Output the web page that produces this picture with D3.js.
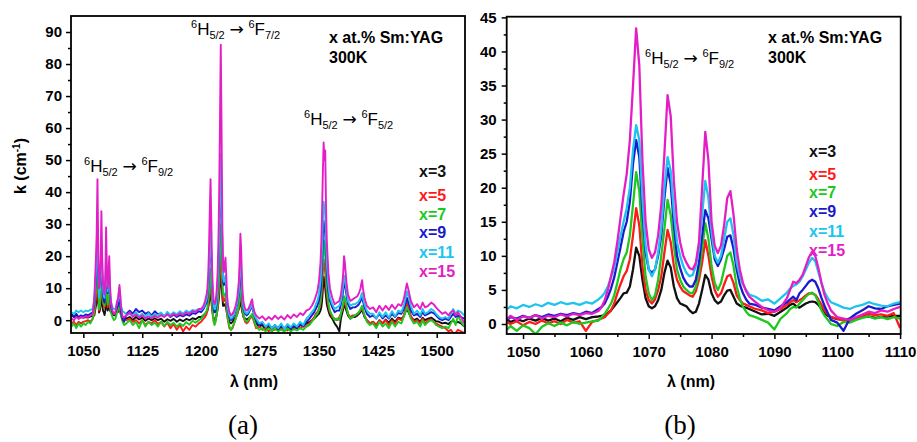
<!DOCTYPE html>
<html><head><meta charset="utf-8">
<script src="https://cdn.jsdelivr.net/npm/d3@7/dist/d3.min.js"></script>
<style>
body{margin:0;background:#fff}
svg{display:block}
text{font-family:"Liberation Sans",Arial,Helvetica,sans-serif;white-space:pre}
</style>
</head><body>
<svg id="chart" width="917" height="442"></svg>
<script>
// ---------------- DATA ----------------
const seriesNames  = ["x=3", "x=5", "x=7", "x=9", "x=11", "x=15"];
const seriesColors = ["#111111", "#ff1a1a", "#1ec81e", "#1a1acc", "#1cc4ee", "#e41ec6"];

// Panel (a): wavelength grid (nm)
const leftLambda = [
  1035,1038,1041,1044,1047,1050,1053,1056,1059,1062,
  1064,1066,1067,1068,1069,1070,1071,1072,1073,1074,1075,1076,1077,1078,1079,1080,1081,1082,1083,1084,1085,1087,1089,1091,1093,1094,1095,1096,1097,1098,1100,1102,
  1105,1109,1113,1117,1121,1125,1129,1133,1137,1141,1145,1149,1153,1157,1161,1165,1169,1173,1177,1181,1185,1189,1193,1197,1200,1203,1205,1207,
  1208,1209,1210,1211,1212,1213,1214,1215,1216,1217,1218,1219,1220,1221,1222,1223,1224,1225,1226,1227,1228,1229,1230,1231,1232,1233,1234,
  1236,1238,1240,1242,1244,1246,1248,1249,1250,1251,1252,1253,1254,1256,1258,1260,1262,1264,1265,1266,1268,
  1270,1274,1278,1282,1286,1290,1294,1298,1302,1306,1310,1314,1318,1322,1326,1330,1334,1338,1341,1344,1346,
  1348,1350,1352,1353,1354,1355,1356,1357,1358,1359,1360,1362,1364,1367,1370,1373,1376,1378,1380,1381,1382,1383,1385,1387,1390,1393,1396,1399,1401,1403,1404,1405,1406,1408,1411,1415,
  1419,1423,1427,1431,1435,1439,1443,1447,1451,1455,1458,1460,1462,1464,1467,1471,1475,1479,1482,1485,1489,1493,1496,1499,1503,1507,1511,1515,1518,1521,1524,1527,1531,1535
];
// Panel (a): absorption coefficient k (cm^-1)
const leftX3 = [
  2,1,1.5,0.5,1,0.8,1,0.8,1.2,1.2,
  1.5,4.5,6,11,6,2.4,3,5,9.3,5,3,2.5,1.6,3,7,4.5,3,4,5,3,2.5,2,1.5,1.5,3,2.5,3,3.3,2.8,1.5,0.7,0.8,
  0.5,1,0,1,0.2,0.8,-0.2,0.5,0,0.6,0,0.5,-0.5,0.3,-0.2,0.4,-0.5,0.2,-0.3,0.4,0,0.6,0.3,1,1,1.5,2,2.5,
  3,4,5.5,7.5,9,6,3.5,1.5,0.5,0,0.2,1,2,3.5,5.5,8,11,14,12,7,4.5,4.5,5,5,3.5,2,1,
  -0.5,-1,-0.5,0.3,1,2,3.5,4.5,6,5,3,2,1,0.5,0.2,0.5,1,1.5,1.5,1,0,
  -1,-2,-1.5,-3,-2,-3.5,-2.5,-3.2,-2.2,-3,-2,-3,-2,-2.6,-1.5,-2,-1,-0.5,0,0.5,1,
  1.5,2,3,4,6,9.5,13.5,12,10,7.5,5,3,1.5,0.5,-1,-2,-3.5,0.5,2.5,3.5,5,4.5,3,1.5,0.5,1,1,1.5,2,2.5,3,3,2.5,1,0,-1,
  -0.5,-1.5,0,-1,0.2,-0.8,0.5,-0.5,0.8,0.5,1.2,2.5,3.5,2.5,1,0,0.5,-0.5,0.8,0,0.5,0.8,0.3,-0.3,-0.5,-1,-0.8,-1.2,-0.5,0,-1,-0.5,-1,-2
];
const leftX5 = [
  -1,-0.5,-1.5,-0.5,-1,-0.5,-0.3,0,-0.5,0.5,
  2,7,10,17,8,3,4,7,14,8,5.5,4.5,4,6.5,12,7,4,5.5,7,4,3,2.5,1.8,2,3.5,3.5,4,4.5,3.5,1.8,0.8,0.5,
  0,0.5,-0.5,0,-1,0,-1.5,-0.5,-1,0,-1.2,-0.5,-2,-0.8,-2.5,-1.2,-3,-1.5,-3.5,-2,-3,-1.5,-2,-1,-0.5,0.5,1,2,
  3,4.5,7,10,12,8,4.5,1.5,-0.5,-1,-0.5,0.5,2,4,7,10,15,21,17,10,6,6,6.5,7,4.5,2,0,
  -2.5,-3,-2.5,-1,0.5,2,4,6,9,7.5,4.5,2.5,1,-0.5,-1,-0.5,0.5,1,1.5,0.5,-1,
  -2.5,-2,-3,-2.5,-3.5,-2.5,-3,-2,-3,-2.5,-3.2,-2.2,-2.8,-2,-2.5,-1.8,-2,-1,0,1,2,
  2.5,3.5,5,7,10,15,19,17,15,11,8,4.5,2.5,1,0.5,0,1,2,3.5,4.5,6,5.5,4,2,1,1.5,1.5,2,2.5,3,3.5,4,3,1.5,0,-1,
  -0.5,-1.5,0,-1,0,-1.5,0,-1.2,0.5,0,1.5,3.5,5.5,4,1.5,-0.5,0,-1,0.5,-1,0,0.2,-0.5,-1,-1.5,-2,-2.5,-3.5,-3,-4,-4,-3,-3.5,-4
];
const leftX7 = [
  -2,-1,-2.5,-1,-2,-1,-1.5,-0.5,-1,0.5,
  3,9.5,13,22,12,3.5,4.5,10,18,11,6.5,5,4.5,7,15,8,5,7.5,10.5,5.5,2.5,1,0,0.5,2.5,3,4,4.5,3,1.2,-0.5,-1.5,
  -1,0,-1.5,-0.5,-2.5,0,-2,-0.5,-1.5,-0.8,-2,-0.5,-1.8,-0.5,-1.5,-0.8,-2,-1,-1.8,-0.6,-1.4,-0.2,-0.8,0,0.5,1.5,2,3,
  4,6,9,13,16,11,6,2,0,-1.5,-1,0.5,2,5,9,14,22,30,24,13,8,7.5,8,8.5,6,3,0.5,
  -2,-3,-2,-1,0.5,2,4.5,7.5,12,10,5.5,3,1.5,0,-0.5,0,1,1.5,2,1,-0.5,
  -2,-3,-2.5,-3.5,-2.5,-3.5,-2.5,-3.5,-2.8,-3.6,-2.5,-3.5,-2.8,-3.2,-2.5,-3,-2,-1.5,-0.5,0.5,1.5,
  2,3.5,6,8.5,13,19,25,22,20,15,10,5.5,3,1.5,0,0.5,0,2,4,5.5,7.5,7,4.5,2,0.5,1,1.5,2,2.5,3.5,4,4.5,3.5,1.5,-0.5,-1.5,
  -1,-2.5,-0.5,-2,-1,-2.5,-0.5,-2,-0.5,-1,1,2.5,4,3,0.5,-1,-0.5,-2,0,-1.5,-0.5,0,-0.5,-1.5,-2,-2.5,-2,-2.5,-1,0.5,-1.5,1.5,-0.5,-2
];
const leftX9 = [
  1.5,1,2,1,1.5,1.2,1.8,1.5,2,2.5,
  5,13.5,18,27,15,7.5,8,13,23,14,8,6,5.5,9,17,12,8.5,11,13,8,4.5,2.5,2,2.5,4,4.5,5.5,6.5,5,2.5,0.2,-0.5,
  2,3,2,3.5,2.5,3,2,2.5,1.5,2.8,1.8,2.2,1.2,2,1,1.8,1,1.6,1.2,1.8,1.4,2.2,2,2.8,2.5,3.5,4.5,5.5,
  7,10,15,22,26,19,11,6,3.5,2.5,2.5,4,6,10,15,24,37,48,38,21,12,11,12,13,9.5,5.5,3,
  1,0,0.5,1.5,3,5,8,12,17,14,8.5,5,3.5,2,1.5,2,3,4,4.5,3,1.5,
  0,-1.5,-1,-2,-1.5,-2.5,-1.5,-2.8,-1.8,-2.5,-1.5,-2.6,-1.8,-2.4,-1.2,-1.8,-0.5,0.5,1.5,2.5,3.5,
  4.5,6,9,12,18,26,31,29,27,21,15,9,6,4,2.5,3,3,5,7.5,9.5,12,11.5,8,5,3.5,4,4,4.5,5,6,7,7.5,6,4,2,1,
  1.5,0.5,2,0.5,1.5,0.5,2,1,2.2,2,3.5,5,7,5.5,3,1.5,2,1,2.5,1.5,2,2.5,2.2,1.5,0.5,0,0.5,0,1,2,1,1.5,1,0.5
];
const leftX11 = [
  2.5,2,3,2.5,3,2.5,3,2.8,3.2,3.5,
  6.5,15,20,29,17,7,8,14,24.5,16,10,7.5,7,11,21,13,9,12,15.5,9,6,4,3.5,3.5,5.5,6,8,10,7.5,4.5,2.8,2.5,
  1.5,2,1.5,2.5,1.2,2,1,2.2,1,2,1.5,2.4,1.2,2.6,1.6,2.5,1.8,2.8,2,3,2.4,3.2,3,3.5,3.2,4,5,6.5,
  8,11,16,24,28,20,12,7,4.5,3.5,3.5,5,7,11,17,26,40,52,40,22,13,12,13,14,10,6,3.5,
  1.5,0.5,1,2,3.5,5.5,9,14,20,17,10,6,4,2.5,2,2.5,3.5,4.5,5,3.5,1.5,
  0.5,-1,-0.5,-2,-1,-2.5,-1.5,-2.5,-1,-2.8,-1.2,-2.2,-1,-2,-0.5,-1.5,0.5,1.5,2.5,3.5,5,
  6,8,12,16,23,31,37,35,33,25,18,11,7,5,3.5,4,4.5,6,9,11,14,13.5,9.5,6,4.5,5,5,5.5,6,7,8,8.5,7,5,3,2,
  2,0.5,2.5,1,2.5,0.8,2.8,1.2,3,2.5,4.5,6.5,9,7.5,4.5,2,3,1.5,3.5,2,2.5,3.5,3,2,1,0.5,1,0.5,2,3.5,2,3,2.5,1.5
];
const leftX15 = [
  0.5,0,1,0.5,1,0.8,1.2,1,1.5,2,
  7,19,27,44,22,10,11,18,34,20,12,9,8,13,29,15,10,14,20,11,6,3,2,2.5,6,6.5,8.5,11,8,4,1,1,
  1.5,2.5,1,1.8,0.8,1.5,0.5,1.2,0.6,1.4,0.8,1.6,1,1.8,1.2,2,1.4,2.2,1.6,2.4,2,2.8,2.5,3.5,3.5,4.5,6,8,
  10,14,22,34,44,30,16,9,6,5,5.5,7,10,15,24,40,62,86,60,30,16,15,17.5,19.5,14,8,5,
  2.5,1.5,2,3,4.5,7,12,18,27,22,13,8,5.5,3.5,3,3.5,4.5,6,6.5,4.5,2.5,
  1.5,0.5,1.2,0,1,0.2,1.4,0.4,1.2,0.2,1.6,0.6,1.8,1,2.2,1.6,3,3.5,4.5,6,7.5,
  9,12,18,24,34,46,55.5,50,53,36,25,15,10,7,5,5.5,6,8,12,15,20,18,12,8,6,6.5,7,7.5,8.5,10,11.5,12.5,10,7,4.5,3.5,
  4,2.5,4.5,3,4.5,3.2,4.8,3.5,5,4.5,6.5,9,11.5,9.5,6,4,5,3.5,5.5,4,4.5,5.5,5,4,3,2,2.5,1.5,2.5,3,1.5,2.5,1,-1
];

// Panel (b): wavelength grid (nm)
const rightLambda = [
  1047.5,1048,1049,1050,1051,1052,1053,1054,1055,1056,1057,1058,1059,1060,1061,1062,
  1062.5,1063,1063.5,1064,1064.5,1065,1065.5,1066,1066.5,1067,1067.5,1068,1068.5,1069,1069.5,1070,1070.5,1071,1071.5,1072,1072.5,1073,1073.5,1074,
  1074.5,1075,1075.5,1076,1076.5,1077,1077.5,1078,1078.5,1079,1079.5,1080,1080.5,1081,1081.5,1082,1082.5,1083,1083.5,1084,1084.5,1085,1085.5,1086,
  1087,1088,1089,1090,1091,1092,1092.5,1093,1093.5,1094,1094.5,1095,1095.5,1096,1096.5,1097,1097.5,1098,1098.5,1099,1100,1101,1102,1103,1104,1105,1106,1107,1108,1109,1110
];
const rightX3 = [
  0.6,0.3,0.7,0.4,0.8,0.5,0.9,0.5,0.8,0.4,0.9,0.6,1.0,0.7,1.0,1.1,
  1.2,1.3,1.6,2.0,2.6,3.2,3.8,4.5,4.6,5.5,8.0,11.2,10.0,6.5,3.8,2.6,2.3,2.6,3.5,5.0,7.5,9.3,8.3,5.5,
  3.8,3.0,2.8,2.6,2.0,1.6,1.8,3.0,5.0,7.2,6.5,4.5,3.5,3.0,3.3,4.2,4.9,5.0,4.0,3.0,2.7,2.5,2.4,2.2,
  1.8,1.4,1.5,1.2,1.8,2.4,2.8,3.0,2.6,2.4,2.7,3.0,3.2,3.3,3.2,2.8,2.2,1.6,1.2,1.0,0.7,0.6,0.8,0.7,1.0,1.1,0.9,1.0,1.1,1.2,1.2
];
const rightX5 = [
  0.3,0.0,0.4,-0.2,0.3,0.0,0.5,0.1,0.4,0.0,0.6,0.2,0.4,-1.0,0.3,0.6,
  0.8,1.0,1.5,2.0,3.0,4.5,5.8,7.0,7.8,9.5,13.0,17.0,14.5,8.5,5.0,3.5,3.0,3.6,5.0,7.0,10.5,13.8,12.0,8.5,
  6.5,5.5,4.8,4.5,4.2,4.0,4.8,6.5,9.0,12.3,10.0,7.0,5.0,4.0,4.5,5.8,7.0,7.2,6.0,4.2,3.5,3.0,2.8,2.6,
  2.2,2.0,1.6,1.8,2.2,2.8,3.2,3.5,3.2,3.5,3.8,4.2,4.5,4.5,4.3,3.6,2.8,2.0,1.4,1.0,0.8,0.5,0.4,0.8,1.2,1.5,1.3,1.4,1.2,1.6,-0.6
];
const rightX7 = [
  -0.8,-0.3,-1.0,-0.2,-0.6,-1.5,-0.4,0.1,-0.3,0.2,-0.2,0.3,0.0,0.2,0.4,0.5,
  1.0,1.5,2.2,3.0,4.2,6.0,8.0,9.5,10.5,13.0,17.5,22.3,19.5,12.5,7.0,4.5,3.5,4.2,6.5,10.0,14.0,18.2,16.0,11.5,
  8.0,6.5,5.5,5.0,4.6,4.5,5.5,7.5,11.0,14.8,12.5,8.5,6.0,5.0,6.0,8.0,10.0,10.5,8.5,5.5,3.8,2.5,1.8,1.3,
  1.0,0.6,0.2,-0.8,0.8,1.6,2.2,2.5,2.4,3.0,3.5,4.0,4.4,4.6,4.2,3.2,2.0,1.2,0.6,0.0,-0.3,0.3,0.2,0.6,0.9,1.1,0.8,1.0,0.7,1.0,0.8
];
const rightX9 = [
  0.6,1.0,0.8,1.2,0.9,1.3,1.0,1.4,1.2,1.5,1.3,1.6,1.4,1.8,1.6,2.2,
  2.5,3.0,4.0,5.2,6.8,9.0,11.2,13.5,15.0,18.0,23.5,27.0,24.5,16.5,10.5,8.0,7.5,8.0,10.0,13.0,18.5,22.9,20.5,14.5,
  10.0,8.2,6.8,6.0,5.5,5.5,6.5,9.0,13.0,16.7,15.5,12.5,9.5,8.5,9.5,11.0,12.8,13.0,11.0,8.0,5.8,4.5,3.6,3.0,
  2.8,2.4,2.2,2.0,2.6,3.2,3.6,4.0,3.5,4.5,5.0,5.6,6.2,6.5,6.2,5.2,3.8,2.6,1.6,0.6,0.2,-1.0,0.8,1.5,2.0,2.6,2.3,2.2,2.6,2.8,3.0
];
const rightX11 = [
  2.2,2.6,2.3,2.8,2.5,2.9,2.6,3.1,2.8,3.2,2.9,3.1,2.8,3.2,3.0,3.6,
  4.0,4.6,5.5,6.8,8.2,10.5,12.8,15.0,17.0,20.0,25.5,29.2,27.0,18.5,11.5,8.0,7.0,8.0,10.5,14.0,20.0,24.5,22.5,16.5,
  12.0,10.0,8.5,7.5,7.0,7.2,8.5,11.0,16.0,21.0,18.5,13.5,10.0,9.0,10.0,12.5,15.0,15.5,13.0,9.0,7.0,5.8,5.0,4.3,
  4.0,3.4,3.6,3.0,3.8,4.6,5.2,5.6,5.8,6.2,7.0,8.0,9.0,9.7,9.2,7.6,6.0,4.6,3.8,3.2,2.8,2.4,2.2,2.6,2.8,3.2,2.9,2.7,2.6,3.0,3.2
];
const rightX15 = [
  0.8,1.2,0.6,1.1,0.9,1.3,0.8,1.2,1.0,1.4,1.1,1.5,1.3,1.6,1.5,1.9,
  2.5,3.5,5.0,7.0,9.0,12.0,15.5,19.0,22.0,27.0,35.0,43.4,38.0,24.0,15.0,11.0,9.7,10.5,13.0,17.5,25.0,33.6,30.5,21.0,
  15.0,12.0,10.0,9.0,8.2,8.0,9.0,12.0,20.0,28.2,24.0,15.0,11.5,10.4,11.5,14.5,18.5,19.5,16.0,11.0,8.0,6.0,4.8,4.0,
  3.2,2.5,2.0,1.8,2.4,3.8,5.0,6.2,6.0,6.5,7.2,8.5,9.8,10.6,10.0,8.2,6.0,4.2,3.0,2.0,1.0,0.8,0.6,1.0,1.4,1.8,1.6,2.0,1.8,2.2,2.5
];

// Tick values
const leftXTicks  = [1050, 1125, 1200, 1275, 1350, 1425, 1500];
const leftXMinor  = [1087.5, 1162.5, 1237.5, 1312.5, 1387.5, 1462.5];
const leftYTicks  = [0, 10, 20, 30, 40, 50, 60, 70, 80, 90];
const leftYMinor  = [5, 15, 25, 35, 45, 55, 65, 75, 85];
const rightXTicks = [1050, 1060, 1070, 1080, 1090, 1100, 1110];
const rightXMinor = [1055, 1065, 1075, 1085, 1095, 1105];
const rightYTicks = [0, 5, 10, 15, 20, 25, 30, 35, 40, 45];
const rightYMinor = [2.5, 7.5, 12.5, 17.5, 22.5, 27.5, 32.5, 37.5, 42.5];

// ---------------- DRAW ----------------
const svg = d3.select("#chart");

function panel(cfg) {
  const x = d3.scaleLinear().domain(cfg.xDomain).range([cfg.left, cfg.right]);
  const y = d3.scaleLinear().domain(cfg.yDomain).range([cfg.bottom, cfg.top]);
  const g = svg.append("g");

  g.append("clipPath").attr("id", cfg.id)
    .append("rect").attr("x", cfg.left).attr("y", cfg.top)
    .attr("width", cfg.right - cfg.left).attr("height", cfg.bottom - cfg.top);

  const line = d3.line().x(d => x(d[0])).y(d => y(d[1]));
  const lg = g.append("g").attr("clip-path", `url(#${cfg.id})`);
  cfg.series.forEach((s, i) => {
    lg.append("path").datum(d3.zip(cfg.lambda, s))
      .attr("d", line).attr("fill", "none")
      .attr("stroke", seriesColors[i]).attr("stroke-width", cfg.lw)
      .attr("stroke-linejoin", "round");
  });

  // axes
  const ax = g.append("g").attr("transform", `translate(0,${cfg.bottom})`)
    .call(d3.axisBottom(x).tickValues(cfg.xTicks).tickSize(5).tickSizeOuter(0).tickPadding(7).tickFormat(d3.format("d")));
  const axm = g.append("g").attr("transform", `translate(0,${cfg.bottom})`)
    .call(d3.axisBottom(x).tickValues(cfg.xMinor).tickSize(3).tickSizeOuter(0).tickFormat(""));
  const ay = g.append("g").attr("transform", `translate(${cfg.left},0)`)
    .call(d3.axisLeft(y).tickValues(cfg.yTicks).tickSize(5).tickSizeOuter(0).tickPadding(cfg.yPad).tickFormat(d3.format("d")));
  const aym = g.append("g").attr("transform", `translate(${cfg.left},0)`)
    .call(d3.axisLeft(y).tickValues(cfg.yMinor).tickSize(3).tickSizeOuter(0).tickFormat(""));
  [ax, axm, ay, aym].forEach(a => {
    a.select(".domain").remove();
    a.selectAll("line").attr("stroke", "#000").attr("stroke-width", 1.5);
    a.selectAll("text").attr("font-size", 15).attr("font-weight", "bold")
      .attr("fill", "#000").attr("font-family", '"Liberation Sans", Arial, sans-serif');
  });

  g.append("rect").attr("x", cfg.left).attr("y", cfg.top)
    .attr("width", cfg.right - cfg.left).attr("height", cfg.bottom - cfg.top)
    .attr("fill", "none").attr("stroke", "#000").attr("stroke-width", 1.8);

  // x title
  g.append("text").attr("x", cfg.xTitleX).attr("y", 387).attr("text-anchor", "middle")
    .attr("font-size", 16).attr("font-weight", "bold").text("\u03bb (nm)");
  // panel letter
  g.append("text").attr("x", cfg.xTitleX - 11).attr("y", 434).attr("text-anchor", "middle")
    .attr("font-size", 27)
    .style("font-family", '"Liberation Serif", "Times New Roman", serif')
    .text(cfg.letter);

  // info
  g.append("text").attr("x", cfg.infoX).attr("y", 42.7).attr("font-size", 16)
    .attr("font-weight", "bold").text("x at.% Sm:YAG");
  g.append("text").attr("x", cfg.infoX).attr("y", 63.3).attr("font-size", 16)
    .attr("font-weight", "bold").text("300K");

  // legend
  seriesNames.forEach((n, i) => {
    g.append("text").attr("x", cfg.legX).attr("y", cfg.legY[i]).attr("font-size", 16)
      .attr("font-weight", "bold").attr("fill", seriesColors[i]).text(n);
  });

  cfg.transitions.forEach(t => transition(g, t[0], t[1], t[2]));
  return g;
}

function transition(g, x, y, sub2) {
  const t = g.append("text").attr("x", x).attr("y", y).attr("font-size", 17).attr("fill", "#000");
  t.append("tspan").attr("font-size", 11).attr("dy", -7).text("6");
  t.append("tspan").attr("dy", 7).text("H");
  t.append("tspan").attr("font-size", 11).attr("dy", 4).text("5/2");
  t.append("tspan").attr("dy", -4).text(" ");
  t.append("tspan").style("font-family", '"DejaVu Sans", sans-serif').attr("font-size", 17).text("\u2192");
  t.append("tspan").text(" ");
  t.append("tspan").attr("font-size", 11).attr("dy", -7).text("6");
  t.append("tspan").attr("dy", 7).text("F");
  t.append("tspan").attr("font-size", 11).attr("dy", 4).text(sub2);
}

panel({
  id: "clipA", left: 71, right: 465, top: 16, bottom: 333,
  xDomain: [1034.3, 1536], yDomain: [-4, 95],
  lambda: leftLambda,
  series: [leftX3, leftX5, leftX7, leftX9, leftX11, leftX15],
  lw: 1.9,
  xTicks: leftXTicks, xMinor: leftXMinor, yTicks: leftYTicks, yMinor: leftYMinor, yPad: 4,
  xTitleX: 254, letter: "(a)", infoX: 329, legX: 419,
  legY: [177.3, 200.7, 220, 238, 258, 277],
  transitions: [[84, 171.7, "9/2"], [191, 35, "7/2"], [304, 125, "5/2"]]
});

panel({
  id: "clipB", left: 506.7, right: 900.7, top: 16.7, bottom: 334,
  xDomain: [1047.4, 1110.1], yDomain: [-1.47, 45.1],
  lambda: rightLambda,
  series: [rightX3, rightX5, rightX7, rightX9, rightX11, rightX15],
  lw: 2.3,
  xTicks: rightXTicks, xMinor: rightXMinor, yTicks: rightYTicks, yMinor: rightYMinor, yPad: 5,
  xTitleX: 691, letter: "(b)", infoX: 768, legX: 809,
  legY: [156.7, 180, 198.3, 216.7, 236.7, 256],
  transitions: [[645, 64, "9/2"]]
});

// y title (left panel)
const yt = svg.append("text").attr("transform", "translate(26,166) rotate(-90)")
  .attr("text-anchor", "middle").attr("font-size", 16).attr("font-weight", "bold");
yt.append("tspan").text("k (cm");
yt.append("tspan").attr("font-size", 10).attr("dy", -6).text("-1");
yt.append("tspan").attr("dy", 6).text(")");
</script>
</body></html>
